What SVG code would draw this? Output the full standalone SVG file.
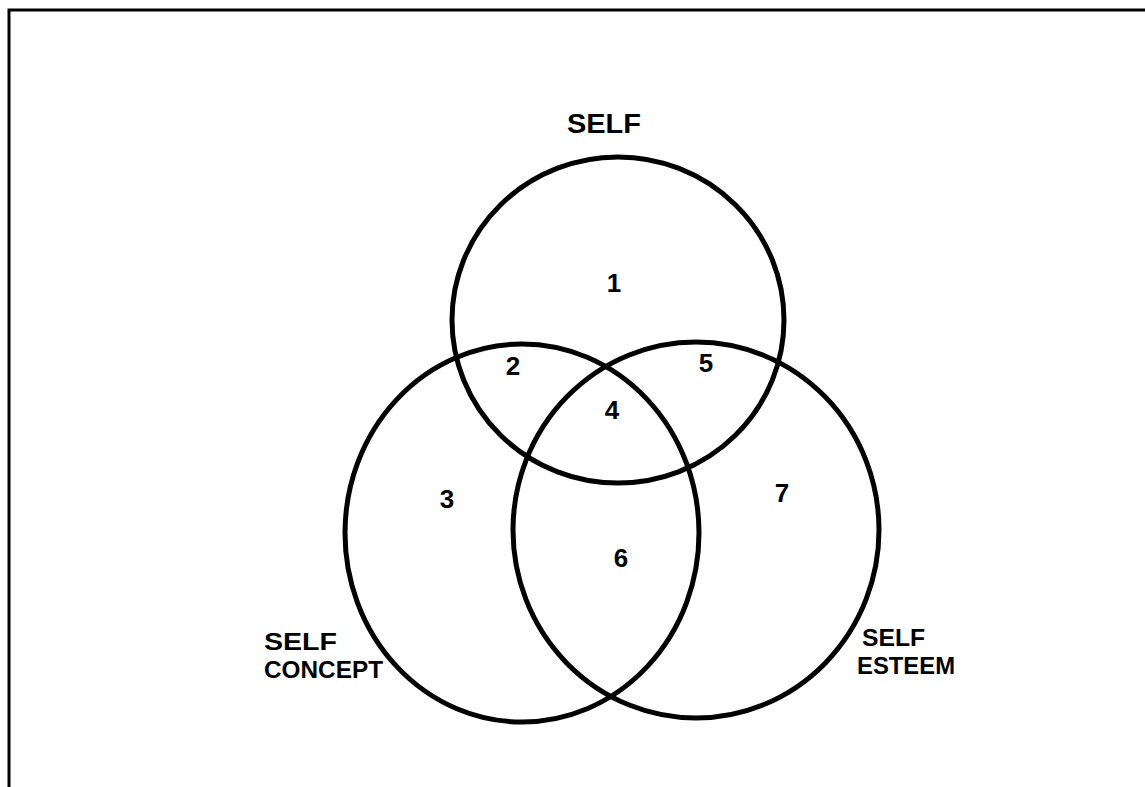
<svg xmlns="http://www.w3.org/2000/svg" width="1145" height="787" viewBox="0 0 1145 787">
<style>
.c{fill:none;stroke:#000;stroke-width:5}
.t{font-family:"Liberation Sans",Arial,sans-serif;font-weight:bold;fill:#000}
.n{font-size:26px;text-anchor:middle}
.l{font-size:24px}
.s{font-size:27px}
</style>
<rect width="1145" height="787" fill="#fff"/>
<g id="frame"><path d="M9,787 V10 H1145" fill="none" stroke="#000" stroke-width="3"/></g>
<g id="self">
<ellipse class="c" cx="618" cy="320" rx="166" ry="163"/>
<text class="t s" x="567" y="133" textLength="74" lengthAdjust="spacingAndGlyphs">SELF</text>
</g>
<g id="self-concept">
<ellipse class="c" cx="522" cy="533" rx="177" ry="189"/>
<text class="t l" x="264" y="650" textLength="73" lengthAdjust="spacingAndGlyphs">SELF</text>
<text class="t l" x="264" y="678" textLength="119" lengthAdjust="spacingAndGlyphs">CONCEPT</text>
</g>
<g id="self-esteem">
<ellipse class="c" cx="696" cy="530" rx="183" ry="188"/>
<text class="t l" x="862" y="646" textLength="63" lengthAdjust="spacingAndGlyphs">SELF</text>
<text class="t l" x="857" y="674" textLength="98" lengthAdjust="spacingAndGlyphs">ESTEEM</text>
</g>
<g id="regions">
<text class="t n" x="614" y="292">1</text>
<text class="t n" x="513" y="375">2</text>
<text class="t n" x="447" y="508">3</text>
<text class="t n" x="612" y="419">4</text>
<text class="t n" x="706" y="372">5</text>
<text class="t n" x="621" y="567">6</text>
<text class="t n" x="782" y="502">7</text>
</g>
<g id="connectors"></g>
</svg>
